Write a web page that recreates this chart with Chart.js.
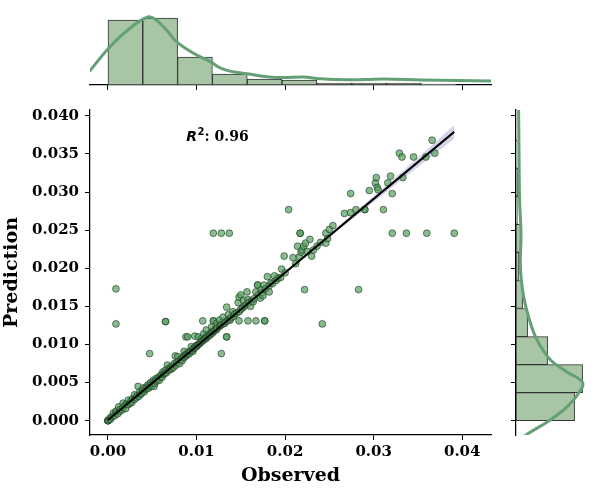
<!DOCTYPE html>
<html>
<head>
<meta charset="utf-8">
<script src="https://cdn.jsdelivr.net/npm/chart.js@4.4.1/dist/chart.umd.min.js"></script>
<style>
html,body{margin:0;padding:0;background:#fff;}
#wrap{position:relative;width:600px;height:500px;background:#fff;}
#wrap canvas{position:absolute;left:0;top:0;}
</style>
</head>
<body>
<div id="wrap">
<canvas id="topc" width="600" height="500"></canvas>
<canvas id="rightc" width="600" height="500"></canvas>
<canvas id="mainc" width="600" height="500"></canvas>
</div>
<script>
// ---------- data ----------
const observed = [
  0, 0, 0, 0, 0.0001, 0.0002, 0.0003, 0.0004, 0.0006, 0.0006,
  0.0008, 0.0009, 0.0009, 0.0009, 0.0010, 0.0011, 0.0012, 0.0013, 0.0014, 0.0016,
  0.0017, 0.0017, 0.0019, 0.0020, 0.0021, 0.0023, 0.0023, 0.0025, 0.0026, 0.0027,
  0.0028, 0.0030, 0.0030, 0.0032, 0.0033, 0.0034, 0.0035, 0.0036, 0.0037, 0.0038,
  0.0039, 0.0040, 0.0041, 0.0042, 0.0043, 0.0044, 0.0045, 0.0046, 0.0047, 0.0047,
  0.0048, 0.0049, 0.0050, 0.0051, 0.0052, 0.0052, 0.0053, 0.0054, 0.0055, 0.0056,
  0.0057, 0.0058, 0.0059, 0.0060, 0.0061, 0.0062, 0.0063, 0.0064, 0.0065, 0.0065,
  0.0065, 0.0066, 0.0067, 0.0068, 0.0069, 0.0070, 0.0071, 0.0072, 0.0073, 0.0074,
  0.0075, 0.0076, 0.0077, 0.0078, 0.0079, 0.0080, 0.0081, 0.0082, 0.0083, 0.0084,
  0.0085, 0.0086, 0.0086, 0.0087, 0.0088, 0.0088, 0.0089, 0.0090, 0.0090, 0.0091,
  0.0092, 0.0093, 0.0094, 0.0095, 0.0096, 0.0096, 0.0097, 0.0098, 0.0098, 0.0099,
  0.0100, 0.0101, 0.0102, 0.0102, 0.0103, 0.0104, 0.0105, 0.0106, 0.0106, 0.0107,
  0.0107, 0.0108, 0.0108, 0.0109, 0.0110, 0.0111, 0.0111, 0.0112, 0.0113, 0.0114,
  0.0115, 0.0116, 0.0117, 0.0117, 0.0118, 0.0119, 0.0119, 0.0119, 0.0119, 0.0120,
  0.0121, 0.0122, 0.0123, 0.0123, 0.0124, 0.0126, 0.0126, 0.0127, 0.0128, 0.0128,
  0.0128, 0.0130, 0.0130, 0.0132, 0.0133, 0.0134, 0.0134, 0.0134, 0.0135, 0.0136,
  0.0137, 0.0137, 0.0138, 0.0139, 0.0141, 0.0142, 0.0143, 0.0145, 0.0147, 0.0148,
  0.0148, 0.0148, 0.0150, 0.0150, 0.0152, 0.0153, 0.0154, 0.0156, 0.0157, 0.0158,
  0.0158, 0.0159, 0.0161, 0.0162, 0.0164, 0.0165, 0.0167, 0.0167, 0.0169, 0.0169,
  0.0170, 0.0172, 0.0173, 0.0174, 0.0175, 0.0176, 0.0177, 0.0177, 0.0178, 0.0180,
  0.0182, 0.0182, 0.0184, 0.0186, 0.0188, 0.0190, 0.0192, 0.0195, 0.0196, 0.0199,
  0.0200, 0.0204, 0.0209, 0.0212, 0.0214, 0.0216, 0.0217, 0.0217, 0.0218, 0.0219,
  0.0221, 0.0222, 0.0223, 0.0225, 0.0228, 0.0230, 0.0232, 0.0236, 0.0240, 0.0242,
  0.0246, 0.0246, 0.0248, 0.0250, 0.0254, 0.0267, 0.0274, 0.0274, 0.0280, 0.0283,
  0.0290, 0.0290, 0.0295, 0.0302, 0.0303, 0.0304, 0.0305, 0.0311, 0.0316, 0.0319,
  0.0321, 0.0321, 0.0329, 0.0332, 0.0333, 0.0337, 0.0345, 0.0359, 0.0360, 0.0366,
  0.0369, 0.0391
];
const predicted = [
  0, 0, 0, 0, 0.0001, 0.0003, 0.0002, 0.0005, 0.0006, 0.0010,
  0.0007, 0.0012, 0.0173, 0.0127, 0.0013, 0.0009, 0.0018, 0.0012, 0.0015, 0.0014,
  0.0023, 0.0017, 0.0020, 0.0016, 0.0022, 0.0027, 0.0021, 0.0023, 0.0026, 0.0024,
  0.0029, 0.0034, 0.0028, 0.0030, 0.0033, 0.0045, 0.0032, 0.0038, 0.0035, 0.0036,
  0.0040, 0.0043, 0.0038, 0.0041, 0.0044, 0.0042, 0.0047, 0.0043, 0.0088, 0.0046,
  0.0050, 0.0045, 0.0048, 0.0053, 0.0045, 0.0051, 0.0049, 0.0055, 0.0052, 0.0054,
  0.0057, 0.0053, 0.0058, 0.0060, 0.0057, 0.0064, 0.0061, 0.0062, 0.0130, 0.0130,
  0.0066, 0.0063, 0.0073, 0.0066, 0.0069, 0.0067, 0.0070, 0.0068, 0.0072, 0.0070,
  0.0075, 0.0085, 0.0073, 0.0077, 0.0084, 0.0078, 0.0075, 0.0080, 0.0081, 0.0079,
  0.0084, 0.0091, 0.0083, 0.0086, 0.0110, 0.0085, 0.0088, 0.0110, 0.0087, 0.0090,
  0.0088, 0.0091, 0.0097, 0.0092, 0.0091, 0.0094, 0.0095, 0.0111, 0.0096, 0.0098,
  0.0097, 0.0099, 0.0110, 0.0100, 0.0101, 0.0102, 0.0103, 0.0108, 0.0104, 0.0131,
  0.0105, 0.0114, 0.0106, 0.0107, 0.0109, 0.0119, 0.0108, 0.0110, 0.0111, 0.0113,
  0.0112, 0.0114, 0.0123, 0.0116, 0.0115, 0.0131, 0.0131, 0.0117, 0.0246, 0.0118,
  0.0120, 0.0119, 0.0128, 0.0121, 0.0122, 0.0132, 0.0124, 0.0125, 0.0088, 0.0246,
  0.0126, 0.0136, 0.0127, 0.0128, 0.0130, 0.0110, 0.0110, 0.0149, 0.0131, 0.0139,
  0.0246, 0.0133, 0.0132, 0.0135, 0.0143, 0.0137, 0.0140, 0.0141, 0.0155, 0.0162,
  0.0131, 0.0143, 0.0165, 0.0146, 0.0148, 0.0158, 0.0150, 0.0152, 0.0169, 0.0159,
  0.0131, 0.0155, 0.0150, 0.0157, 0.0156, 0.0160, 0.0169, 0.0131, 0.0178, 0.0178,
  0.0165, 0.0161, 0.0172, 0.0168, 0.0164, 0.0178, 0.0131, 0.0131, 0.0173, 0.0189,
  0.0169, 0.0177, 0.0181, 0.0180, 0.0190, 0.0184, 0.0187, 0.0188, 0.0199, 0.0216,
  0.0194, 0.0277, 0.0214, 0.0206, 0.0229, 0.0215, 0.0246, 0.0246, 0.0221, 0.0224,
  0.0229, 0.0172, 0.0233, 0.0222, 0.0238, 0.0216, 0.0224, 0.0229, 0.0234, 0.0127,
  0.0246, 0.0233, 0.0239, 0.0251, 0.0256, 0.0272, 0.0273, 0.0298, 0.0277, 0.0172,
  0.0277, 0.0277, 0.0302, 0.0312, 0.0319, 0.0306, 0.0303, 0.0277, 0.0312, 0.0321,
  0.0298, 0.0246, 0.0351, 0.0346, 0.0319, 0.0246, 0.0346, 0.0346, 0.0246, 0.0368,
  0.0351, 0.0246
];

// regression line and its confidence band
const regX = [0, 0.0391];
const regY = [0.0001, 0.0379];
const ciX    = [0, 0.005, 0.010, 0.015, 0.020, 0.025, 0.030, 0.035, 0.0391];
const ciLow  = [-0.0001, 0.00478, 0.00967, 0.0145, 0.01928, 0.0241, 0.0287, 0.0333, 0.0370];
const ciHigh = [0.0003, 0.00508, 0.00987, 0.0147, 0.01952, 0.0245, 0.0295, 0.0345, 0.0388];
const r2Text = '0.96';

// marginal histograms (counts) and KDE curves
const obsBinEdges = [0, 0.00393, 0.00786, 0.01179, 0.01572, 0.01965, 0.02358, 0.02751, 0.03144, 0.03537, 0.0393];
const obsCounts   = [325, 335, 140, 55, 30, 25, 10, 10, 10, 5];
const predBinEdges = [0, 0.00368, 0.00736, 0.01104, 0.01472, 0.0184, 0.02208, 0.02576, 0.02944, 0.03312, 0.0368];
const predCounts   = [293, 333, 158, 58, 33, 15, 25, 7, 8, 5];

const obsKdeX = [-0.0021, 0.0000, 0.0021, 0.0045, 0.0055, 0.0066, 0.0077, 0.0096, 0.0115, 0.0127, 0.0139, 0.0157, 0.0182, 0.0198, 0.0221, 0.0236, 0.0256, 0.0290, 0.0312, 0.0355, 0.0434];
const obsKdeY = [68, 180, 270, 340, 323, 275, 218, 160, 118, 85, 68, 56, 40, 37, 40, 33, 27, 27, 30, 25, 20];
const predKdeY = [0.0408, 0.0355, 0.0289, 0.0246, 0.0207, 0.0185, 0.0163, 0.0136, 0.0106, 0.0080, 0.0064, 0.0050, 0.0036, 0.0018, 0.0001, -0.00165, -0.0021];
const predKdeX = [13, 15, 18, 25, 21.5, 26.5, 38, 63, 105, 171.5, 255, 333, 313, 255, 171.5, 63, 36.5];

// axes
const xTicks = [0, 0.01, 0.02, 0.03, 0.04];
const xTickLabels = ['0.00', '0.01', '0.02', '0.03', '0.04'];
const yTicks = [0, 0.005, 0.010, 0.015, 0.020, 0.025, 0.030, 0.035, 0.040];
const yTickLabels = ['0.000', '0.005', '0.010', '0.015', '0.020', '0.025', '0.030', '0.035', '0.040'];
const xLabel = 'Observed';
const yLabel = 'Prediction';

// ---------- styling ----------
const X_MIN = -0.00203, X_MAX = 0.04325;
const Y_MIN = -0.00188, Y_MAX = 0.04077;
const COUNT_MAX = 375;
const HIST_FILL = 'rgb(168,198,166)';
const HIST_EDGE = '#333333';
const KDE_COLOR = 'rgb(100,160,118)';
const PT_FILL = 'rgba(85,160,95,0.7)';
const PT_EDGE = 'rgba(25,50,30,0.75)';
const BAND = 'rgba(160,160,210,0.45)';

Chart.defaults.font.family = "'DejaVu Serif'";
Chart.defaults.color = '#000';
Chart.defaults.animation = false;

const tickFont = {family: "'DejaVu Serif'", size: 15, weight: 'bold'};
const titleFont = {family: "'DejaVu Serif'", size: 19, weight: 'bold'};

function setTicks(arr) { return (scale) => { scale.ticks = arr.map(v => ({value: v})); }; }
const centers = (edges) => edges.slice(0, -1).map((e, i) => (e + edges[i + 1]) / 2);

// R^2 annotation plugin
const r2Plugin = {
  id: 'r2note',
  afterDatasetsDraw(chart) {
    const {ctx, chartArea: a} = chart;
    let x = a.left + 0.24 * (a.right - a.left);
    const y = a.top + 0.0945 * (a.bottom - a.top);
    ctx.save();
    ctx.fillStyle = '#000';
    ctx.textBaseline = 'alphabetic';
    ctx.textAlign = 'left';
    ctx.font = "italic bold 14px 'DejaVu Sans'";
    ctx.fillText('R', x, y);
    x += ctx.measureText('R').width + 0.5;
    ctx.font = "bold 10px 'DejaVu Sans'";
    ctx.fillText('2', x, y - 6);
    x += ctx.measureText('2').width;
    ctx.font = "bold 14px 'DejaVu Serif'";
    ctx.fillText(': ' + r2Text, x, y);
    ctx.restore();
  }
};

// ---------- main scatter ----------
new Chart(document.getElementById('mainc'), {
  type: 'scatter',
  data: {
    datasets: [
      {type: 'line', data: ciX.map((x, i) => ({x, y: ciHigh[i]})), borderWidth: 0, pointRadius: 0,
       fill: '+1', backgroundColor: BAND, borderColor: 'rgba(0,0,0,0)', order: 3},
      {type: 'line', data: ciX.map((x, i) => ({x, y: ciLow[i]})), borderWidth: 0, pointRadius: 0,
       fill: false, borderColor: 'rgba(0,0,0,0)', order: 3},
      {type: 'scatter', data: observed.map((x, i) => ({x, y: predicted[i]})), pointRadius: 3.4,
       backgroundColor: PT_FILL, borderColor: PT_EDGE, borderWidth: 0.8, order: 2},
      {type: 'line', data: regX.map((x, i) => ({x, y: regY[i]})), borderColor: '#000', borderWidth: 2,
       pointRadius: 0, fill: false, order: 1}
    ]
  },
  options: {
    responsive: false, devicePixelRatio: 1, animation: false,
    layout: {padding: {left: 0, top: 110, right: 109, bottom: 0}},
    plugins: {legend: {display: false}, tooltip: {enabled: false}},
    scales: {
      x: {
        type: 'linear', min: X_MIN, max: X_MAX,
        afterBuildTicks: setTicks(xTicks),
        afterFit: (s) => { s.height = 65; },
        ticks: {callback: (v, i) => xTickLabels[i], font: tickFont, color: '#000', padding: 3, maxRotation: 0, autoSkip: false},
        grid: {drawOnChartArea: false, drawTicks: true, tickLength: 5, color: '#000', lineWidth: 1},
        border: {display: true, color: '#000', width: 1.25},
        title: {display: true, text: xLabel, font: titleFont, color: '#000', padding: {top: 0, bottom: 13}}
      },
      y: {
        type: 'linear', min: Y_MIN, max: Y_MAX,
        afterBuildTicks: setTicks(yTicks),
        afterFit: (s) => { s.width = 90; },
        ticks: {callback: (v, i) => yTickLabels[i], font: tickFont, color: '#000', padding: 6, autoSkip: false},
        grid: {drawOnChartArea: false, drawTicks: true, tickLength: 5, color: '#000', lineWidth: 1},
        border: {display: true, color: '#000', width: 1.25},
        title: {display: true, text: yLabel, font: titleFont, color: '#000', padding: {top: 1, bottom: 0}}
      }
    }
  },
  plugins: [r2Plugin]
});

// ---------- top marginal (observed) ----------
new Chart(document.getElementById('topc'), {
  type: 'bar',
  data: {
    datasets: [
      {type: 'bar', data: centers(obsBinEdges).map((x, i) => ({x, y: obsCounts[i]})),
       backgroundColor: HIST_FILL, borderColor: HIST_EDGE, borderWidth: 1, borderSkipped: false,
       barPercentage: 1, categoryPercentage: 1, order: 2},
      {type: 'line', data: obsKdeX.map((x, i) => ({x, y: obsKdeY[i]})), borderColor: KDE_COLOR,
       borderWidth: 3, pointRadius: 0, tension: 0.4, fill: false, order: 1}
    ]
  },
  options: {
    responsive: false, devicePixelRatio: 1, animation: false,
    layout: {padding: {left: 90, top: 10, right: 109, bottom: 0}},
    plugins: {legend: {display: false}, tooltip: {enabled: false}},
    scales: {
      x: {
        type: 'linear', min: X_MIN, max: X_MAX, offset: false,
        afterBuildTicks: setTicks(xTicks),
        afterFit: (s) => { s.height = 415; },
        ticks: {display: false},
        grid: {offset: false, drawOnChartArea: false, drawTicks: true, tickLength: 5, color: '#000', lineWidth: 1},
        border: {display: true, color: '#000', width: 1.25}
      },
      y: {type: 'linear', display: false, min: 0, max: COUNT_MAX}
    }
  }
});

// ---------- right marginal (prediction) ----------
new Chart(document.getElementById('rightc'), {
  type: 'bar',
  data: {
    datasets: [
      {type: 'bar', data: centers(predBinEdges).map((y, i) => ({x: predCounts[i], y})),
       backgroundColor: HIST_FILL, borderColor: HIST_EDGE, borderWidth: 1, borderSkipped: false,
       barPercentage: 1, categoryPercentage: 1, order: 2},
      {type: 'line', data: predKdeY.map((y, i) => ({x: predKdeX[i], y})), borderColor: KDE_COLOR,
       borderWidth: 3, pointRadius: 0, tension: 0.4, fill: false, order: 1}
    ]
  },
  options: {
    indexAxis: 'y',
    responsive: false, devicePixelRatio: 1, animation: false,
    layout: {padding: {left: 0, top: 110, right: 9, bottom: 65}},
    plugins: {legend: {display: false}, tooltip: {enabled: false}},
    scales: {
      y: {
        type: 'linear', min: Y_MIN, max: Y_MAX, offset: false,
        afterBuildTicks: setTicks(yTicks),
        afterFit: (s) => { s.width = 516; },
        ticks: {display: false},
        grid: {offset: false, drawOnChartArea: false, drawTicks: true, tickLength: 5, color: '#000', lineWidth: 1},
        border: {display: true, color: '#000', width: 1.25}
      },
      x: {type: 'linear', display: false, min: 0, max: COUNT_MAX}
    }
  }
});
</script>
</body>
</html>
